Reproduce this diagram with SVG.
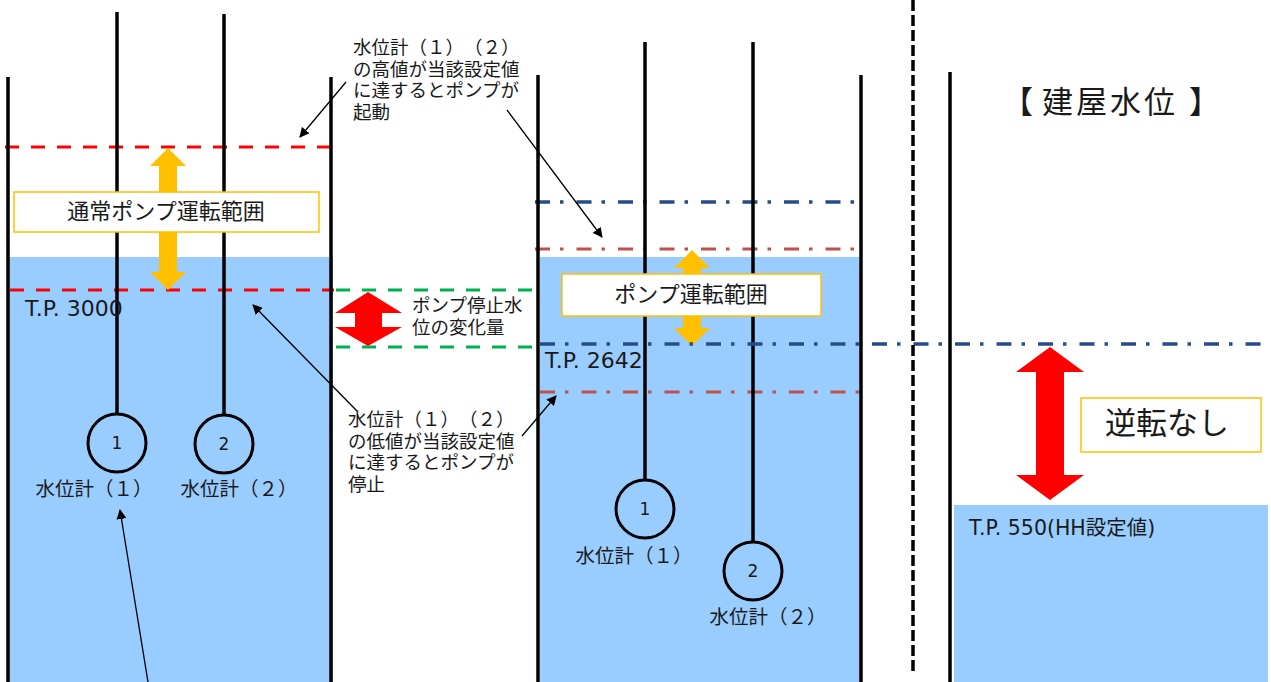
<svg xmlns="http://www.w3.org/2000/svg" width="1271" height="682" viewBox="0 0 1271 682">
<defs>
<style>
.water{fill:#99CCFF}
.wall{stroke:#000;stroke-width:3.5;fill:none}
.probe{stroke:#000;stroke-width:3.5;fill:none}
.gauge{stroke:#000;stroke-width:3;fill:none}
.reddash{stroke:#FF0000;stroke-width:3;stroke-dasharray:14 12;fill:none}
.greendash{stroke:#00B050;stroke-width:3;stroke-dasharray:14 12;fill:none}
.bluedd{stroke:#264E86;stroke-width:3.5;stroke-dasharray:15 10 3.5 13;fill:none}
.reddd{stroke:#C0504D;stroke-width:3;stroke-dasharray:15 10 3.5 13;fill:none}
.sep{stroke:#000;stroke-width:3.5;stroke-dasharray:11 4;fill:none}
.box{fill:#fff;stroke:#FFC000;stroke-width:1.5}
.yarrow{fill:#FFC000}
.rarrow{fill:#FF0000}
.lead{stroke:#000;stroke-width:1.3;fill:none;marker-end:url(#ah)}
.jp{font-family:"Noto Sans CJK JP","DejaVu Sans",sans-serif;fill:#1a1a1a;text-spacing-trim:space-all;font-feature-settings:"chws" 0,"halt" 0,"palt" 0}
.lat{font-family:"DejaVu Sans","Noto Sans CJK JP",sans-serif;fill:#1a1a1a}
</style>
<marker id="ah" viewBox="0 0 10 10" refX="9" refY="5" markerWidth="10" markerHeight="10" markerUnits="userSpaceOnUse" orient="auto">
<path d="M0,0 L10,5 L0,10 z" fill="#000"/>
</marker>
</defs>

<rect width="1271" height="682" fill="#fff"/>

<g id="tank-left">
<rect class="water" x="9" y="257" width="324" height="425"/>
<line class="reddash" x1="5" y1="147" x2="330" y2="147"/>
<line class="reddash" x1="10" y1="290" x2="334" y2="290"/>
<line class="wall" x1="8" y1="77" x2="8" y2="682"/>
<line class="wall" x1="331" y1="77" x2="331" y2="682"/>
</g>

<g id="gauge-left-1">
<line class="probe" x1="117" y1="12" x2="117" y2="414"/>
<circle class="gauge" cx="117" cy="443" r="29"/>
<text class="lat" x="117" y="449" font-size="17" text-anchor="middle">1</text>
<text class="jp" x="94" y="496" font-size="19.5" text-anchor="middle">水位計（１）</text>
</g>

<g id="gauge-left-2">
<line class="probe" x1="224" y1="14" x2="224" y2="415"/>
<circle class="gauge" cx="224" cy="444" r="29"/>
<text class="lat" x="224" y="450" font-size="17" text-anchor="middle">2</text>
<text class="jp" x="239" y="496" font-size="19.5" text-anchor="middle">水位計（２）</text>
</g>

<g id="range-left">
<polygon class="yarrow" points="168,148 186,166 177,166 177,272 186,272 168,290 150,272 159,272 159,166 150,166"/>
<rect class="box" x="14" y="192" width="305" height="40"/>
<text class="jp" x="166" y="219" font-size="22" text-anchor="middle">通常ポンプ運転範囲</text>
<text class="lat" x="25" y="316" font-size="22">T.P. 3000</text>
</g>

<g id="stop-change">
<line class="greendash" x1="336" y1="290" x2="537" y2="290"/>
<line class="greendash" x1="336" y1="347" x2="537" y2="347"/>
<polygon class="rarrow" points="368,292 402,313 382,313 382,327 402,327 368,346 335,327 355,327 355,313 335,313"/>
<text class="jp" x="412" y="312" font-size="18.5">ポンプ停止水</text>
<text class="jp" x="412" y="334" font-size="18.5">位の変化量</text>
</g>

<g id="note-start">
<text class="jp" font-size="18.5"><tspan x="353" y="54">水位計（１）（２）</tspan><tspan x="353" y="76">の高値が当該設定値</tspan><tspan x="353" y="97">に達するとポンプが</tspan><tspan x="353" y="119">起動</tspan></text>
</g>

<g id="note-stop">
<text class="jp" font-size="18.5"><tspan x="348" y="426">水位計（１）（２）</tspan><tspan x="348" y="448">の低値が当該設定値</tspan><tspan x="348" y="469">に達するとポンプが</tspan><tspan x="348" y="491">停止</tspan></text>
</g>

<g id="tank-middle">
<rect class="water" x="540" y="257" width="322" height="425"/>
<line class="bluedd" x1="535" y1="202" x2="858" y2="202"/>
<line class="reddd" x1="535" y1="249" x2="858" y2="249"/>
<line class="reddd" x1="540" y1="392" x2="862" y2="392"/>
<line class="wall" x1="538" y1="75" x2="538" y2="682"/>
<line class="wall" x1="861" y1="75" x2="861" y2="682"/>
</g>

<g id="gauge-middle-1">
<line class="probe" x1="645" y1="42" x2="645" y2="480"/>
<circle class="gauge" cx="645" cy="509" r="29"/>
<text class="lat" x="645" y="515" font-size="17" text-anchor="middle">1</text>
<text class="jp" x="634" y="563" font-size="19.5" text-anchor="middle">水位計（１）</text>
</g>

<g id="gauge-middle-2">
<line class="probe" x1="753" y1="42" x2="753" y2="542"/>
<circle class="gauge" cx="753" cy="571" r="29"/>
<text class="lat" x="753" y="577" font-size="17" text-anchor="middle">2</text>
<text class="jp" x="768" y="624" font-size="19.5" text-anchor="middle">水位計（２）</text>
</g>

<g id="range-middle">
<polygon class="yarrow" points="692,250 710,268 701,268 701,328 710,328 692,346 674,328 683,328 683,268 674,268"/>
<rect class="box" x="562" y="274" width="259" height="42"/>
<text class="jp" x="691" y="302" font-size="22" text-anchor="middle">ポンプ運転範囲</text>
<text class="lat" x="545" y="368" font-size="22">T.P. 2642</text>
</g>

<g id="level-line">
<line class="bluedd" x1="540" y1="344" x2="1262" y2="344"/>
</g>

<g id="separator">
<line class="sep" x1="913" y1="0" x2="913" y2="673"/>
</g>

<g id="building">
<rect class="water" x="954" y="505" width="314" height="177"/>
<line class="wall" x1="950" y1="72" x2="950" y2="682"/>
<text class="jp" font-size="31" y="113"><tspan x="1002">【</tspan><tspan x="1042" letter-spacing="3">建屋水位</tspan><tspan x="1189">】</tspan></text>
<polygon class="rarrow" points="1050,347 1084,372 1064,372 1064,475 1084,475 1050,500 1016,475 1036,475 1036,372 1016,372"/>
<rect class="box" x="1081" y="398" width="180" height="54"/>
<text class="jp" x="1167" y="434" font-size="31" text-anchor="middle">逆転なし</text>
<text class="lat" x="969" y="535" font-size="20.5">T.P. 550(HH設定値)</text>
</g>

<g id="connectors">
<line class="lead" x1="346" y1="82" x2="300" y2="137"/>
<line class="lead" x1="507" y1="110" x2="602" y2="237"/>
<line class="lead" x1="357" y1="411" x2="253" y2="305"/>
<line class="lead" x1="522" y1="436" x2="556" y2="396"/>
<line class="lead" x1="148" y1="682" x2="120" y2="510"/>
</g>
</svg>
